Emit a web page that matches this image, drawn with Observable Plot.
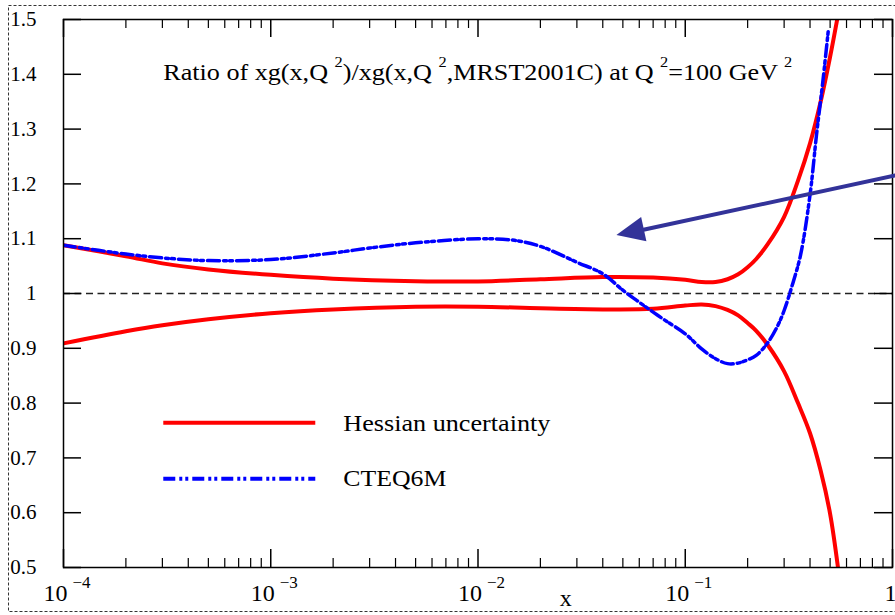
<!DOCTYPE html>
<html><head><meta charset="utf-8">
<script src="https://cdn.jsdelivr.net/npm/d3@7"></script>
<script src="https://cdn.jsdelivr.net/npm/@observablehq/plot@0.6"></script>
<style>html,body{margin:0;padding:0;background:#fff;} svg{display:block}</style>
</head><body><div id="chart"></div>
<script>
// ---- data ----
const hessX     = [1e-4, 2e-4, 3e-4, 5e-4, 1e-3, 2e-3, 5e-3, 1e-2, 2e-2, 4e-2, 7e-2, 0.1, 0.12, 0.14, 0.16, 0.18, 0.2, 0.22, 0.25, 0.3, 0.35, 0.4, 0.45, 0.5, 0.55];
const hessUpper = [1.088, 1.068, 1.055, 1.044, 1.034, 1.027, 1.0225, 1.022, 1.026, 1.030, 1.029, 1.025, 1.021, 1.021, 1.026, 1.035, 1.048, 1.063, 1.090, 1.14, 1.206, 1.274, 1.35, 1.432, 1.515];
const hessLower = [0.909, 0.931, 0.942, 0.953, 0.964, 0.971, 0.976, 0.976, 0.973, 0.971, 0.972, 0.978, 0.980, 0.977, 0.970, 0.960, 0.946, 0.932, 0.906, 0.858, 0.80, 0.745, 0.677, 0.598, 0.49];

const cteqX = [1e-4, 2e-4, 3e-4, 5e-4, 1e-3, 2e-3, 3e-3, 5e-3, 1e-2, 1.5e-2, 2e-2, 3e-2, 4e-2, 5e-2, 6e-2, 7e-2, 8e-2, 0.1, 0.12, 0.14, 0.16, 0.18, 0.2, 0.22, 0.25, 0.28, 0.3, 0.33, 0.36, 0.4, 0.43, 0.46, 0.49];
const cteqY = [1.088, 1.072, 1.065, 1.060, 1.062, 1.074, 1.083, 1.0925, 1.0998, 1.097, 1.086, 1.057, 1.036, 1.006, 0.984, 0.966, 0.951, 0.9265, 0.899, 0.881, 0.872, 0.873, 0.879, 0.887, 0.91, 0.942, 0.969, 1.018, 1.07, 1.18, 1.29, 1.383, 1.48];

const yTicks = [0.5, 0.6, 0.7, 0.8, 0.9, 1, 1.1, 1.2, 1.3, 1.4, 1.5];
const xDecades = [1e-4, 1e-3, 1e-2, 1e-1, 1];
const xBaseLabels = ["10", "10", "10", "10", "1"];
const xExpLabels = ["\u22124", "\u22123", "\u22122", "\u22121", ""];
const minorMult = [2, 3, 4, 5, 6, 7, 8, 9];
const xMinor = xDecades.slice(0, -1).flatMap(d => minorMult.map(m => d * m));

const legendLabels = ["Hessian uncertainty", "CTEQ6M"];
const legendY = [0.764, 0.662];
const legendLine = [3.03e-4, 1.64e-3];
const legendTextX = 2.24e-3;
const titleX = 3.03e-4, titleY = 1.403;
const xLabelX = 0.0265;
const arrowFrom = [1.03, 1.2153];
const arrowTo = [0.0468, 1.1058];

const RED = "#ff0000", BLUE = "#0000ff", ARROW = "#333399";
const blueDash = "12,4,3,3,3,4";
const FONT = "'Liberation Serif', 'Times New Roman', serif";

const H = 615, mT = 19, mB = 48, plotH = H - mT - mB;

const plot = Plot.plot({
  width: 895, height: H,
  marginLeft: 63, marginRight: 3, marginTop: mT, marginBottom: mB,
  x: {type: "log", domain: [1e-4, 1], axis: null},
  y: {domain: [0.5, 1.5], axis: null},
  style: {fontFamily: FONT, fontSize: "21px", background: "white", color: "black"},
  marks: [
    // outer dashed border
    Plot.frame({insetLeft: -55, insetTop: -14, insetBottom: -44, insetRight: -10, stroke: "#333", strokeDasharray: "3,2", strokeWidth: 1}),
    Plot.ruleY([1], {stroke: "#222", strokeWidth: 1.3, strokeDasharray: "7,4.5"}),
    // curves
    Plot.line(hessX, {x: d => d, y: (d, i) => hessUpper[i], stroke: RED, strokeWidth: 4, curve: "catmull-rom", clip: true}),
    Plot.line(hessX, {x: d => d, y: (d, i) => hessLower[i], stroke: RED, strokeWidth: 4, curve: "catmull-rom", clip: true}),
    Plot.line(cteqX, {x: d => d, y: (d, i) => cteqY[i], stroke: BLUE, strokeWidth: 3.5, strokeDasharray: blueDash, curve: "catmull-rom", clip: true}),
    // legend
    Plot.link([0], {x1: legendLine[0], x2: legendLine[1], y1: legendY[0], y2: legendY[0], stroke: RED, strokeWidth: 4}),
    Plot.link([0], {x1: legendLine[0], x2: legendLine[1], y1: legendY[1], y2: legendY[1], stroke: BLUE, strokeWidth: 4, strokeDasharray: blueDash}),
    Plot.text(legendLabels, {x: legendTextX, y: (d, i) => legendY[i], text: d => d, textAnchor: "start", fontSize: 24, className: "legtext"}),
    // title
    Plot.text(["title"], {x: titleX, y: titleY, text: d => d, textAnchor: "start", fontSize: 24, className: "titletext"}),
    // frame and ticks
    Plot.frame({stroke: "black", strokeWidth: 1.5}),
    Plot.tickY(yTicks, {y: d => d, insetRight: 895 - 63 - 3 - 18, stroke: "black", strokeWidth: 1.5}),
    Plot.tickY(yTicks, {y: d => d, insetLeft: 895 - 63 - 3 - 18, stroke: "black", strokeWidth: 1.5}),
    Plot.tickX(xDecades, {x: d => d, insetTop: plotH - 18, stroke: "black", strokeWidth: 1.5}),
    Plot.tickX(xDecades, {x: d => d, insetBottom: plotH - 18, stroke: "black", strokeWidth: 1.5}),
    Plot.tickX(xMinor, {x: d => d, insetTop: plotH - 9, stroke: "black", strokeWidth: 1.2}),
    Plot.tickX(xMinor, {x: d => d, insetBottom: plotH - 9, stroke: "black", strokeWidth: 1.2}),
    // axis labels
    Plot.axisY({ticks: yTicks, tickSize: 0, tickPadding: 27, fontSize: 21, tickFormat: d => String(d), label: null}),
    Plot.text(xDecades, {x: d => d, text: (d, i) => xBaseLabels[i], frameAnchor: "bottom", dy: 33, dx: 4, textAnchor: "end", fontSize: 24}),
    Plot.text(xDecades, {x: d => d, text: (d, i) => xExpLabels[i], frameAnchor: "bottom", dy: 20.5, dx: 9, textAnchor: "start", fontSize: 17}),
    Plot.text(["x"], {x: xLabelX, text: d => d, frameAnchor: "bottom", dy: 38, fontSize: 24}),
    // arrow shaft
    Plot.arrow([0], {x1: arrowFrom[0], y1: arrowFrom[1], x2: arrowTo[0], y2: arrowTo[1], stroke: ARROW, strokeWidth: 4, headLength: 0, insetEnd: 20})
  ]
});
document.getElementById("chart").appendChild(plot);

// arrow head via the plot's scales
const sx = plot.scale("x"), sy = plot.scale("y");
const p0 = [sx.apply(arrowFrom[0]), sy.apply(arrowFrom[1])];
const p1 = [sx.apply(arrowTo[0]), sy.apply(arrowTo[1])];
const dxv = p1[0] - p0[0], dyv = p1[1] - p0[1], len = Math.hypot(dxv, dyv);
const ux = dxv / len, uy = dyv / len, hl = 28, hw = 12.5;
const bx = p1[0] - ux * hl, by = p1[1] - uy * hl;
d3.select(plot).append("polygon")
  .attr("points", [[p1[0], p1[1]], [bx - uy * hw, by + ux * hw], [bx + uy * hw, by - ux * hw]].map(p => p.join(",")).join(" "))
  .attr("fill", ARROW);

// title with superscripts
const titleParts = [["Ratio of xg(x,Q ", 0], ["2", 1], [")/xg(x,Q ", 0], ["2", 1], [",MRST2001C) at Q ", 0], ["2", 1], ["=100 GeV ", 0], ["2", 1]];
const tEl = d3.select(plot).select(".titletext text");
tEl.text(null);
let up = false;
titleParts.forEach(([s, sup]) => {
  const ts = tEl.append("tspan").text(s);
  if (sup) { ts.attr("font-size", 15).attr("dy", up ? 0 : -13); up = true; }
  else if (up) { ts.attr("dy", 13); up = false; }
});
tEl.attr("textLength", 629).attr("lengthAdjust", "spacingAndGlyphs");
const legW = [207, 103];
d3.select(plot).selectAll(".legtext text").each(function(d, i) {
  d3.select(this).attr("textLength", legW[i]).attr("lengthAdjust", "spacingAndGlyphs");
});
</script></body></html>
